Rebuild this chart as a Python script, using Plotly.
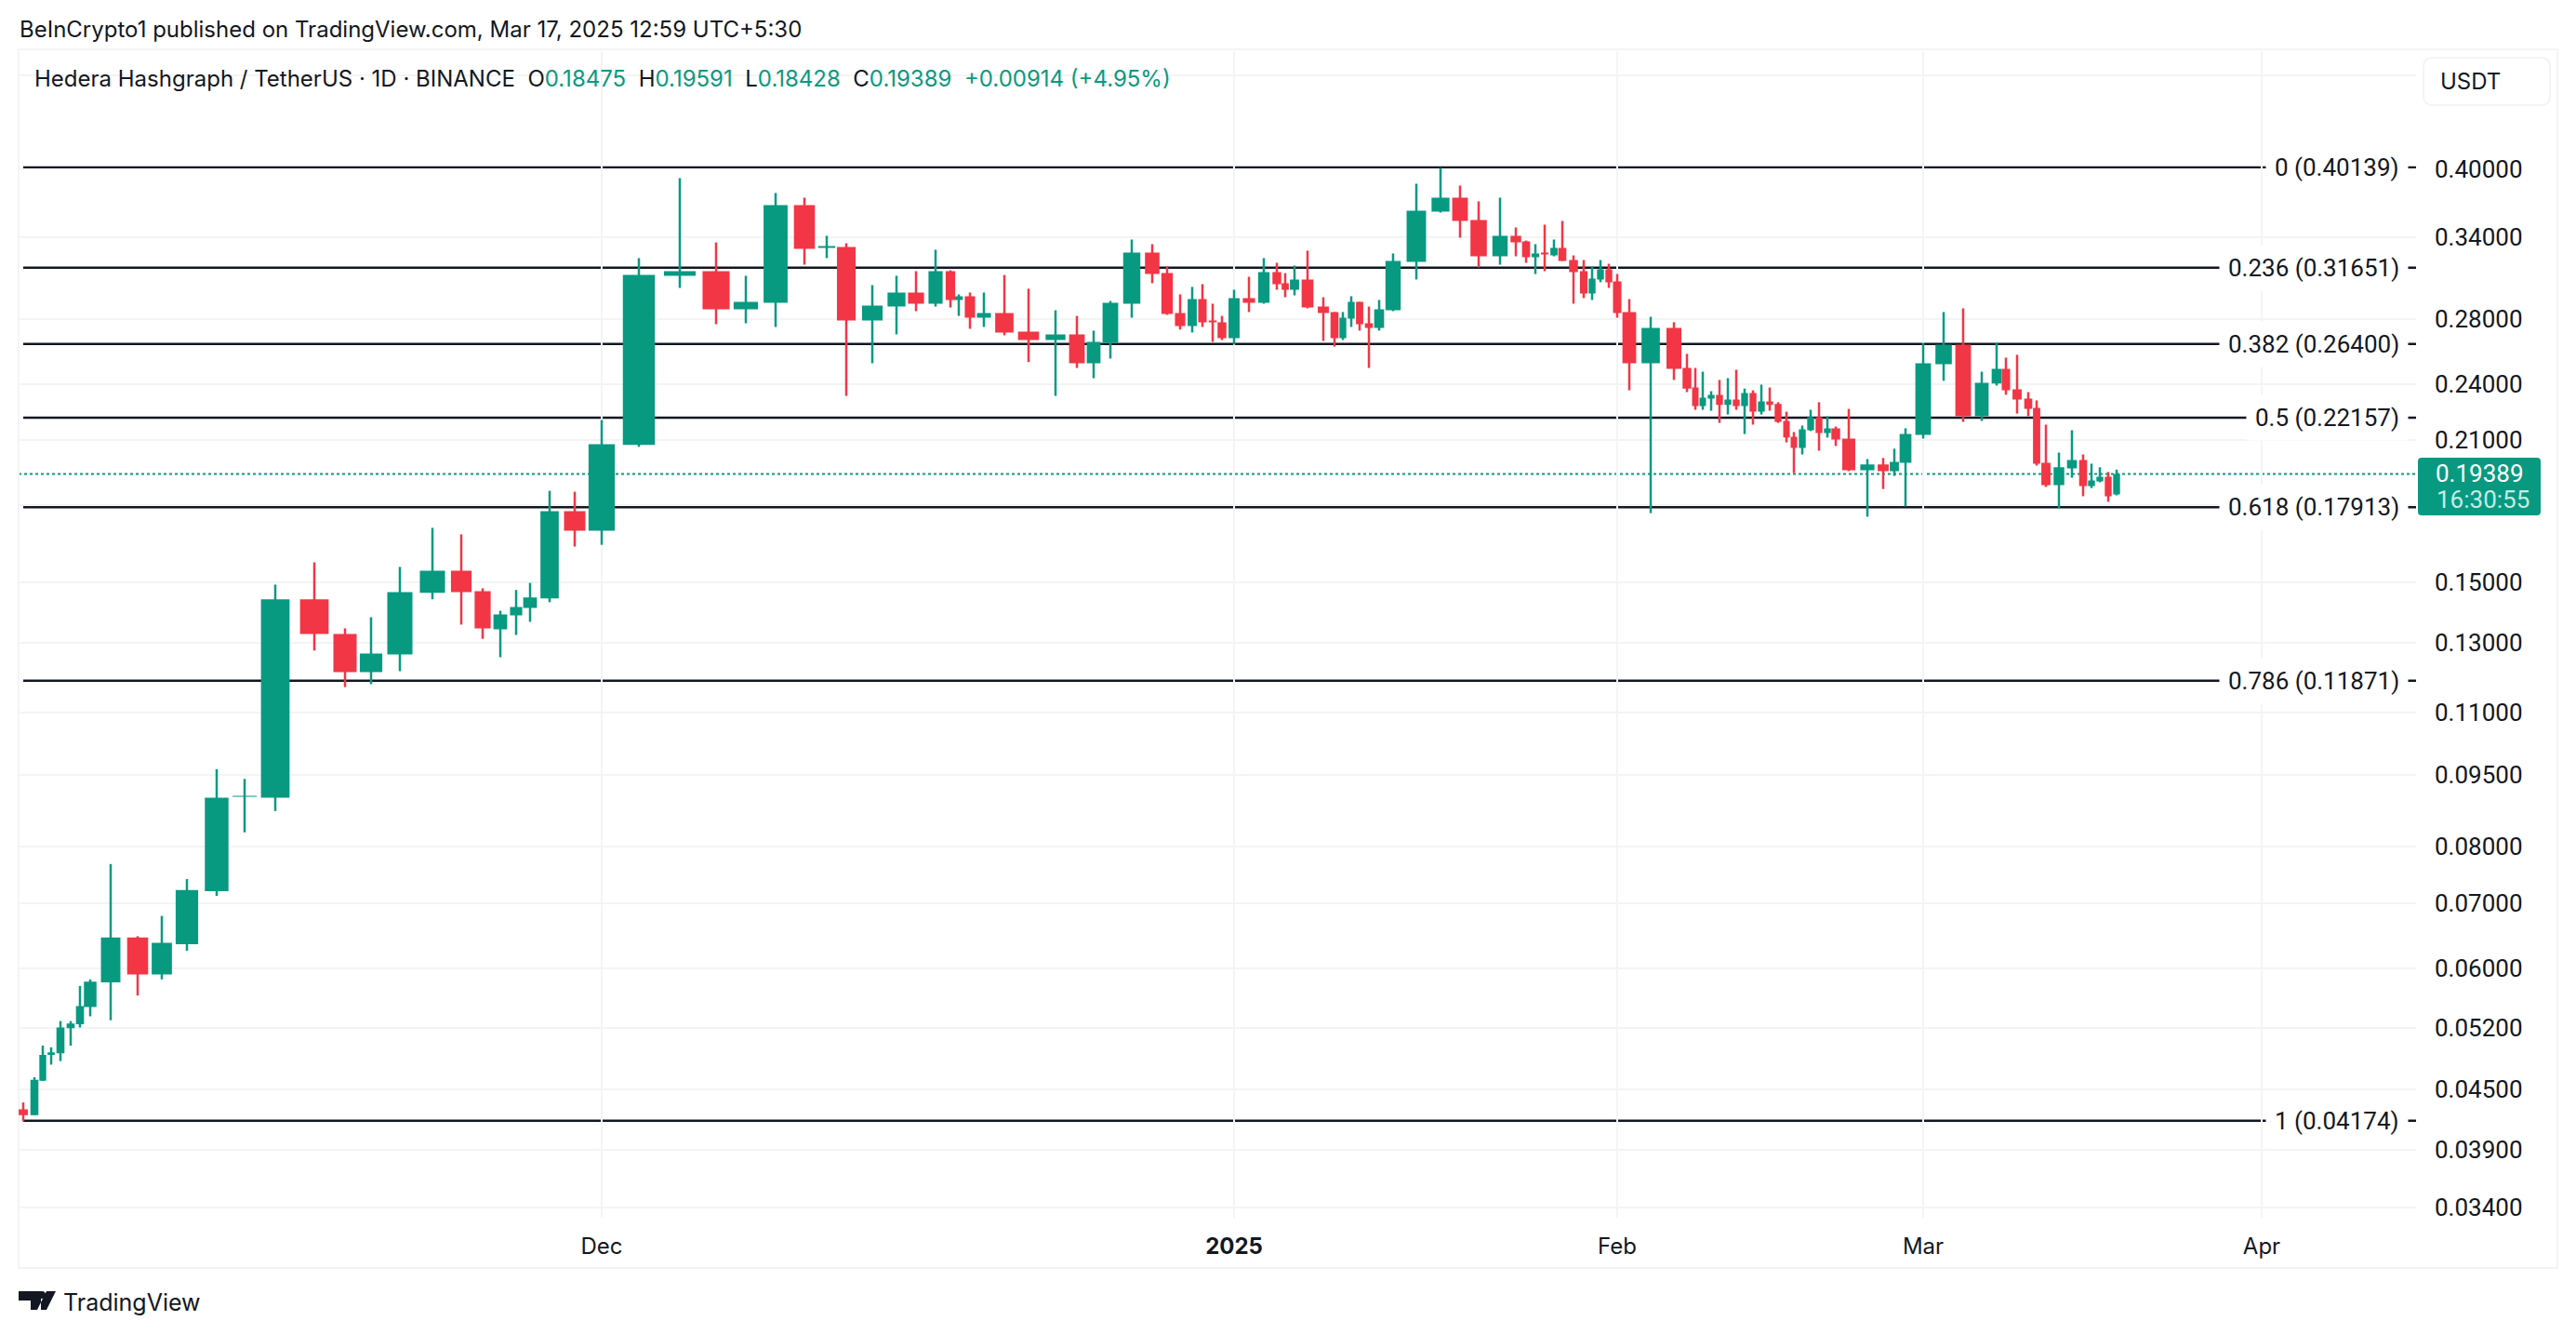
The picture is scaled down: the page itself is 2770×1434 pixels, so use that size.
#!/usr/bin/env python
import numpy as np
import pandas as pd
import plotly.graph_objects as go

# daily candles
start_date = "2024-11-04"
opens = [.0429,.0423,.0459,.0488,.0490,.0520,.0525,.0547,.0580,.0645,.0591,.0635,.0720,.0901,.0899,.1440,.1326,.1211,.1263,.1462,
         .1541,.1468,.1341,.1386,.1411,.1443,.1775,.1695,.2077,.3104,.3138,.2867,.2911,.3671,.3316,.3323,.2791,.2885,.2983,.2905,
         .3138,.2931,.2957,.2810,.2841,.2719,.2665,.2701,.2522,.2647,.2905,.3280,.3124,.2841,.2755,.2937,.2791,.2780,.2677,.2944,
         .2911,.3131,.3050,.3003,.3077,.2885,.2848,.2677,.2804,.2918,.2773,.2743,.2860,.3208,.3615,.3737,.3544,.3251,.3413,.3368,
         .3244,.3280,.3258,.3316,.3222,.3138,.2976,.3077,.3152,.3063,.2848,.2522,.2743,.2494,.2381,.2278,.2319,.2340,.2284,.2314,
         .2278,.2350,.2248,.2304,.2289,.2199,.2118,.2063,.2151,.2219,.2137,.2161,.2109,.1956,.1983,.1952,.1991,.2128,.2516,.2636,
         .2224,.2403,.2489,.2371,.2319,.2268,.1991,.1888,.1965,.2004,.1884,.1905,.1926,.18475]
highs = [.0436,.0463,.0499,.0497,.0529,.0529,.0575,.0584,.0768,.0647,.0679,.0741,.0962,.0940,.1491,.1572,.1344,.1380,.1555,.1706,
         .1680,.1478,.1401,.1472,.1497,.1863,.1859,.2204,.3237,.3914,.3360,.3104,.3778,.3737,.3413,.3353,.3036,.3104,.3138,.3302,
         .3145,.2970,.2983,.2983,.3110,.3010,.2860,.2822,.2725,.2924,.3383,.3346,.3173,.2970,.3023,.3043,.2905,.2822,.3003,.3097,
         .3237,.3201,.3124,.3180,.3295,.2950,.2848,.2848,.2957,.2918,.2885,.2931,.3273,.3862,.4011,.3845,.3704,.3737,.3482,.3375,
         .3346,.3505,.3383,.3536,.3258,.3222,.3173,.3222,.3194,.3117,.2937,.2816,.2780,.2579,.2494,.2472,.2360,.2424,.2434,.2483,
         .2375,.2365,.2397,.2381,.2299,.2248,.2142,.2175,.2258,.2299,.2224,.2170,.2263,.2009,.2014,.2059,.2161,.2647,.2848,.2873,
         .2472,.2647,.2556,.2573,.2355,.2309,.2180,.2040,.2151,.2031,.1987,.1970,.1948,.19591]
lows = [.0417,.0423,.0459,.0477,.0481,.0499,.0521,.0535,.0530,.0562,.0584,.0625,.0712,.0828,.0871,.1275,.1169,.1177,.1214,.1440,
        .1356,.1311,.1255,.1323,.1365,.1430,.1632,.1639,.2068,.3016,.2767,.2773,.2749,.3187,.3237,.2334,.2522,.2701,.2854,.2885,
        .2879,.2822,.2737,.2749,.2695,.2529,.2334,.2494,.2434,.2550,.2810,.3050,.2829,.2732,.2713,.2749,.2653,.2665,.2636,.2848,
        .2905,.3003,.2950,.2963,.2873,.2659,.2624,.2665,.2749,.2725,.2494,.2725,.2854,.3077,.3607,.3398,.3166,.3187,.3251,.3201,
        .3117,.3138,.3251,.3215,.2905,.2944,.2931,.3057,.3016,.2810,.2365,.1767,.2424,.2355,.2258,.2258,.2253,.2189,.2233,.2258,
        .2132,.2180,.2233,.2253,.2189,.2090,.1943,.2031,.2147,.2049,.2114,.2072,.1952,.1752,.1871,.1930,.1795,.2109,.2419,.2194,
        .2199,.2392,.2340,.2238,.2224,.1978,.1880,.1787,.1922,.1839,.1875,.1901,.1815,.18428]
closes = [.0423,.0460,.0488,.0491,.0521,.0526,.0548,.0581,.0645,.0591,.0637,.0722,.0899,.0903,.1440,.1326,.1211,.1266,.1465,.1541,
          .1465,.1344,.1389,.1414,.1446,.1775,.1695,.2081,.3110,.3138,.2867,.2918,.3671,.3309,.3331,.2791,.2892,.2983,.2905,.3138,
          .2931,.2957,.2810,.2841,.2713,.2665,.2701,.2522,.2653,.2911,.3280,.3117,.2835,.2755,.2937,.2780,.2780,.2677,.2944,.2911,
          .3131,.3043,.3003,.3077,.2879,.2841,.2677,.2810,.2918,.2767,.2743,.2867,.3215,.3623,.3737,.3536,.3251,.3413,.3360,.3244,
          .3273,.3266,.3316,.3215,.3131,.2976,.3084,.3152,.3057,.2841,.2522,.2743,.2489,.2375,.2278,.2324,.2340,.2284,.2314,.2278,
          .2350,.2248,.2304,.2284,.2194,.2114,.2063,.2156,.2219,.2137,.2161,.2104,.1956,.1983,.1952,.1996,.2132,.2522,.2636,.2224,
          .2408,.2489,.2365,.2314,.2263,.1987,.1888,.1970,.2004,.1884,.1909,.1926,.1839,.19389]

# the time scale of the published picture is not even, so each session has its place on it
session_scale = [25,37,46,55,65,76,86,97,119,148,174,201,233,263,296,338,371,399,430,465,496,519,538,555,570,591,618,647,
                 687,731,770,802,834,865,889,910,938,964,985,1006,1022,1031,1043,1058,1080,1106,1135,1158,1176,1194,1217,
                 1239,1255,1269,1282,1293,1304,1314,1327,1343,1359,1373,1382,1392,1406,1423,1435,1444,1453,1462,1472,1483,
                 1498,1523,1549,1570,1590,1613,1630,1641,1651,1661,1671,1680,1692,1703,1712,1721,1730,1739,1752,1775,1800,
                 1814,1823,1831,1840,1849,1858,1867,1876,1885,1894,1903,1912,1921,1929,1938,1947,1956,1965,1974,1988,2008,
                 2025,2037,2049,2068,2090,2111,2131,2147,2157,2169,2181,2190,2200,2214,2228,2240,2249,2258,2267,2276]
month_ticks = [647, 1327, 1739, 2068, 2432]
month_labels = ["Dec", "<b>2025</b>", "Feb", "Mar", "Apr"]

price_ticks = [0.50, 0.40, 0.34, 0.28, 0.24, 0.21, 0.18, 0.15, 0.13, 0.11, 0.095, 0.08, 0.07, 0.06, 0.052, 0.045, 0.039, 0.034]
price_hidden = [0.50, 0.18]

fib_levels = ["0", "0.236", "0.382", "0.5", "0.618", "0.786", "1"]
fib_prices = [0.40139, 0.31651, 0.26400, 0.22157, 0.17913, 0.11871, 0.04174]

last_price = 0.19389
countdown = "16:30:55"

W, H = 2770, 1434
GREEN = "#089981"
RED = "#f23645"
INK = "#131722"
GRID = "#f3f4f6"
FONT = "Inter"
NUM_FONT = "Roboto"


def px(x):
    return x / W


def py(y):
    return 1 - y / H


def round_rect(x0, y0, x1, y1, r):
    return (f"M{px(x0 + r)},{py(y0)} L{px(x1 - r)},{py(y0)} Q{px(x1)},{py(y0)} {px(x1)},{py(y0 + r)} "
            f"L{px(x1)},{py(y1 - r)} Q{px(x1)},{py(y1)} {px(x1 - r)},{py(y1)} L{px(x0 + r)},{py(y1)} "
            f"Q{px(x0)},{py(y1)} {px(x0)},{py(y1 - r)} L{px(x0)},{py(y0 + r)} Q{px(x0)},{py(y0)} {px(x0 + r)},{py(y0)} Z")


def note(x, y, text, size=24, color=INK, anchor="left", family=FONT):
    fig.add_annotation(x=px(x), y=py(y), xref="paper", yref="paper", text=text, showarrow=False,
                       xanchor=anchor, yanchor="middle", font=dict(family=family, size=size, color=color))


dates = pd.date_range(start_date, periods=len(opens)).strftime("%Y-%m-%d")
pos = np.array(session_scale, dtype=float)
body_w = np.gradient(pos) * 0.82

fig = go.Figure()

for colour, is_up in [(GREEN, True), (RED, False)]:
    wick_x, wick_y, body_x, body_y = [], [], [], []
    for i in range(len(opens)):
        if (closes[i] >= opens[i]) != is_up:
            continue
        left, right = pos[i] - body_w[i] / 2, pos[i] + body_w[i] / 2
        wick_x += [pos[i], pos[i], None]
        wick_y += [lows[i], highs[i], None]
        body_x += [left, right, right, left, left, None]
        body_y += [opens[i], opens[i], closes[i], closes[i], opens[i], None]
    fig.add_trace(go.Scatter(x=wick_x, y=wick_y, mode="lines", line=dict(color=colour, width=2.5),
                             hoverinfo="skip", showlegend=False))
    fig.add_trace(go.Scatter(x=body_x, y=body_y, mode="lines", fill="toself", fillcolor=colour,
                             line=dict(color=colour, width=0), hoverinfo="skip", showlegend=False))

# invisible points so the candles can still be hovered by date
fig.add_trace(go.Scatter(x=pos, y=closes, mode="markers", marker=dict(opacity=0), text=list(dates),
                         hovertemplate="%{text}<br>C %{y:.5f}<extra></extra>", showlegend=False))

for level, price in zip(fib_levels, fib_prices):
    fig.add_shape(type="line", xref="x", yref="y", x0=pos[0], x1=2598, y0=price, y1=price,
                  line=dict(color=INK, width=2.5), layer="below")
    fig.add_annotation(x=2590, y=np.log10(price), xref="x", yref="y", text=f"{level} ({price:.5f})",
                       showarrow=False, xanchor="right", yanchor="middle", bgcolor="white", borderpad=9,
                       font=dict(family=NUM_FONT, size=26, color=INK))

fig.add_shape(type="line", xref="paper", yref="y", x0=px(20), x1=px(2600), y0=last_price, y1=last_price,
              line=dict(color=GREEN, width=2, dash="dot"), layer="below")

# chart frame
fig.add_shape(type="rect", xref="paper", yref="paper", x0=px(20), x1=px(2750), y0=py(1363), y1=py(53),
              line=dict(color=GRID, width=2), layer="below")
# currency button
fig.add_shape(type="path", xref="paper", yref="paper", path=round_rect(2606, 62, 2742, 113, 10),
              fillcolor="white", line=dict(color=GRID, width=2))
# last price tag
fig.add_shape(type="path", xref="paper", yref="paper", path=round_rect(2600, 492, 2732, 554, 4),
              fillcolor=GREEN, line=dict(width=0))
# TradingView mark
logo = (f"M{px(20)},{py(1388)} L{px(44)},{py(1388)} L{px(44)},{py(1408)} L{px(33)},{py(1408)} L{px(33)},{py(1398)} "
        f"L{px(20)},{py(1398)} Z M{px(60)},{py(1388)} L{px(50)},{py(1408)} L{px(40)},{py(1408)} L{px(50)},{py(1388)} Z")
fig.add_shape(type="path", xref="paper", yref="paper", path=logo, fillcolor=INK, line=dict(width=0))
fig.add_shape(type="circle", xref="paper", yref="paper", x0=px(41), x1=px(49), y0=py(1396), y1=py(1388),
              fillcolor=INK, line=dict(width=0))

note(19, 32, "BeInCrypto1 published on TradingView.com, Mar 17, 2025 12:59 UTC+5:30")
g = f'<span style="color:{GREEN}">'
note(35, 85, f"Hedera Hashgraph / TetherUS · 1D · BINANCE  O{g}0.18475</span>  H{g}0.19591</span>  "
             f"L{g}0.18428</span>  C{g}0.19389</span>  {g}+0.00914 (+4.95%)</span>")
note(2622, 87, "USDT")
note(2617, 509, f"{last_price:.5f}", size=26, color="white", family=NUM_FONT)
note(2618, 537, countdown, size=26, color="#c6ebe4", family=NUM_FONT)
note(66, 1400, "TradingView", size=25)

fig.update_layout(
    width=W, height=H,
    margin=dict(l=0, r=0, t=0, b=0),
    paper_bgcolor="white", plot_bgcolor="white",
    showlegend=False,
    font=dict(family=FONT, size=24, color=INK),
    xaxis=dict(domain=[px(20), px(2598)], range=[20, 2598], tickmode="array", tickvals=month_ticks,
               ticktext=month_labels, showgrid=True, gridcolor=GRID, gridwidth=2, zeroline=False,
               showline=False, ticks="", ticklabelstandoff=14, automargin=False),
    yaxis=dict(domain=[py(1308.5), py(54.5)], type="log", range=[np.log10(0.03320), np.log10(0.5297)], side="right",
               tickmode="array", tickvals=price_ticks,
               ticktext=["" if p in price_hidden else f"{p:.5f}" for p in price_ticks],
               tickfont=dict(family=NUM_FONT, size=26, color=INK),
               showgrid=True, gridcolor=GRID, gridwidth=2, zeroline=False, showline=False, ticks="",
               ticklabelstandoff=19, automargin=False),
)

fig.write_html("out.html", config={"displayModeBar": False},
               post_script="document.body.style.margin='0';document.body.style.overflow='hidden';")
